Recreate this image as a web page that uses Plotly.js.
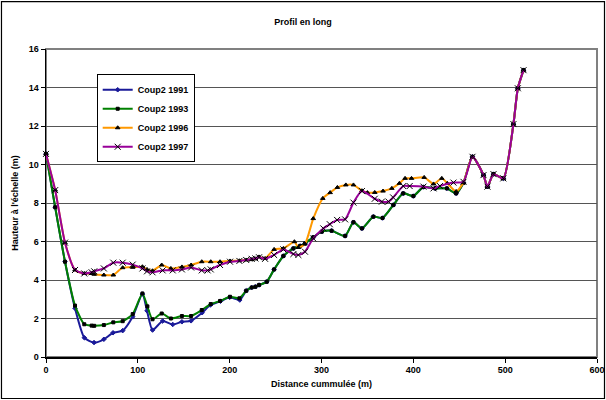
<!DOCTYPE html>
<html>
<head>
<meta charset="utf-8">
<script src="https://cdn.plot.ly/plotly-3.0.1.min.js"></script>
<style>html,body{margin:0;padding:0;background:#fff;}#chart{width:606px;height:400px;}</style>
</head>
<body>
<div id="chart"></div>
<script>
// ---- Data ----
const seriesNames = ["Coup2 1991", "Coup2 1993", "Coup2 1996", "Coup2 1997"];

const x1991 = [0, 10, 20.7, 31.6, 41.8, 52.3, 63, 73, 83.5, 94.4, 105, 110, 116, 127, 138, 148, 158, 170, 179, 190, 200, 211, 218, 224, 228, 232,
  240.4, 248.4, 258.5, 269.4, 276.7, 282, 291, 300.3, 311, 325.7, 334.8, 344, 356.5, 366.4, 378.3, 389, 400, 411, 423.7, 436.5, 446.6, 454.6, 464.4, 476.4, 480.7, 487.3, 498, 509, 513.8, 520];
const y1991 = [10.55, 7.78, 4.95, 2.53, 1.0, 0.75, 0.92, 1.26, 1.37, 2.09, 3.27, 2.4, 1.40, 1.87, 1.69, 1.83, 1.88, 2.3, 2.7, 2.9, 3.1, 2.96, 3.44, 3.61, 3.65, 3.74,
  3.91, 4.55, 5.25, 5.64, 5.77, 5.9, 6.22, 6.51, 6.56, 6.29, 7.0, 6.68, 7.29, 7.22, 7.9, 8.5, 8.36, 8.83, 8.76, 8.76, 8.5, 9.05, 10.4, 9.45, 8.85, 9.5, 9.28, 12.1, 13.96, 14.9];

const x1993 = [0, 10, 20.7, 31.6, 41.7, 49.7, 52.5, 63, 73.3, 83.5, 94.4, 105, 110.4, 116, 126, 136, 148, 158, 169.6, 179.4, 189.5, 200.4, 210.6, 218, 224, 228, 232,
  240.4, 248.4, 258.5, 269.4, 276.7, 282, 291, 300.3, 311, 325.7, 334.8, 344, 356.5, 366.4, 378.3, 389, 400, 411, 423.7, 436.5, 446.6, 454.6, 464.4, 476.4, 480.7, 487.3, 498, 509, 513.8, 520];
const y1993 = [10.55, 7.78, 4.95, 2.67, 1.70, 1.63, 1.62, 1.66, 1.80, 1.86, 2.23, 3.30, 2.63, 1.96, 2.26, 2.0, 2.13, 2.13, 2.44, 2.75, 2.91, 3.13, 3.05, 3.44, 3.61, 3.65, 3.74,
  3.91, 4.55, 5.25, 5.64, 5.77, 5.9, 6.22, 6.51, 6.56, 6.29, 7.0, 6.68, 7.29, 7.22, 7.9, 8.5, 8.36, 8.83, 8.76, 8.76, 8.5, 9.05, 10.4, 9.45, 8.85, 9.5, 9.28, 12.1, 13.96, 14.9];

const x1996 = [0, 10, 20.7, 31.6, 41.7, 49.7, 52.5, 63, 73.3, 83.5, 94.4, 105, 110, 116, 126, 136, 148, 158, 169.6, 179.4, 189.5, 200.4, 210.6, 218, 224, 228, 232,
  238.6, 248.4, 258.5, 270.5, 274.8, 282, 291, 301.4, 309.4, 317.3, 326.5, 334.8, 344, 350, 358, 367, 376.6, 384.8, 391, 398, 411.8, 422, 431, 437, 446.6, 454.6, 464.4, 476.4, 480.7, 487.3, 498, 509, 513.8, 520];
const y1996 = [10.55, 8.67, 5.94, 4.52, 4.34, 4.34, 4.3, 4.26, 4.26, 4.64, 4.66, 4.69, 4.55, 4.48, 4.78, 4.6, 4.68, 4.78, 4.95, 4.95, 4.95, 4.99, 5.0, 5.04, 5.06, 5.1, 5.2,
  5.12, 5.59, 5.64, 5.99, 5.69, 5.87, 7.19, 8.24, 8.54, 8.81, 8.94, 8.94, 8.64, 8.54, 8.55, 8.62, 8.76, 9.02, 9.28, 9.28, 9.33, 8.99, 9.28, 9.02, 8.6, 9.06, 10.4, 9.45, 8.85, 9.5, 9.28, 12.1, 13.96, 14.9];

const x1997 = [0, 10, 20.7, 31.6, 41.7, 49.7, 52.5, 63, 73.3, 83.5, 94.4, 105, 110, 116, 127, 138, 148, 158, 169.6, 176, 179.4, 189.5, 200.4, 210.6, 218, 224, 228, 232,
  238.6, 248.4, 258.5, 269.4, 274.8, 282, 291, 302, 309, 317, 325.7, 334.8, 344, 358, 365.7, 373, 378, 389, 396, 411, 422, 429, 443.7, 454.6, 464.4, 476.4, 480.7, 487.3, 498, 509, 513.8, 520];
const y1997 = [10.55, 8.67, 5.94, 4.52, 4.34, 4.4, 4.45, 4.6, 4.9, 4.9, 4.8, 4.6, 4.45, 4.4, 4.5, 4.5, 4.55, 4.65, 4.5, 4.5, 4.55, 4.78, 4.95, 4.99, 5.04, 5.1, 5.12, 5.18,
  5.1, 5.3, 5.59, 5.35, 5.3, 5.47, 6.16, 6.68, 6.9, 7.12, 7.15, 8.02, 8.62, 8.22, 8.07, 8.07, 8.29, 8.88, 8.88, 8.85, 8.76, 8.88, 9.06, 9.1, 10.4, 9.45, 8.85, 9.5, 9.28, 12.1, 13.96, 14.9];

const xTicks = [0, 100, 200, 300, 400, 500, 600];
const yTicks = [0, 2, 4, 6, 8, 10, 12, 14, 16];

// ---- Styling ----
const FONT = "Liberation Sans, Arial, sans-serif";
const lineSpec = [
  {color: "#1a1a99", symbol: "diamond", msize: 3.5, mcolor: "#1a1a99"},
  {color: "#008000", symbol: "square", msize: 3, mcolor: "#000000"},
  {color: "#ff9900", symbol: "triangle-up", msize: 4, mcolor: "#000000"},
  {color: "#990099", symbol: "x-thin-open", msize: 6, mcolor: "#000000"}
];
const xs = [x1991, x1993, x1996, x1997];
const ys = [y1991, y1993, y1996, y1997];

const traces = seriesNames.map((name, i) => ({
  type: "scatter",
  mode: "lines+markers",
  name: "<b>" + name + "</b>",
  x: xs[i],
  y: ys[i],
  line: {color: lineSpec[i].color, width: 2, shape: "spline", smoothing: 0.6},
  marker: {symbol: lineSpec[i].symbol, size: lineSpec[i].msize, color: lineSpec[i].mcolor,
           line: {color: lineSpec[i].mcolor, width: 1}},
  cliponaxis: false
}));

const layout = {
  width: 606, height: 400,
  margin: {l: 46, r: 9, t: 49, b: 43},
  paper_bgcolor: "#ffffff",
  plot_bgcolor: "#ffffff",
  showlegend: true,
  font: {family: FONT, size: 9, color: "#000"},
  title: {text: "<b>Profil en long</b>", x: 0.5, xref: "container", y: 0.945, yref: "container",
          yanchor: "middle", font: {family: FONT, size: 9, color: "#000"}},
  xaxis: {
    range: [0, 600], tickvals: xTicks, ticktext: xTicks.map(v => "<b>" + v + "</b>"),
    ticks: "outside", ticklen: 4, tickcolor: "#000", tickwidth: 1,
    showgrid: false, zeroline: false,
    showline: true, linecolor: "#000", linewidth: 1.5,
    tickfont: {family: FONT, size: 9, color: "#000"},
    title: {text: "<b>Distance cummulée (m)</b>", standoff: 6, font: {family: FONT, size: 9, color: "#000"}}
  },
  yaxis: {
    range: [0, 16], tickvals: yTicks, ticktext: yTicks.map(v => "<b>" + v + "</b>"),
    ticks: "outside", ticklen: 4, tickcolor: "#000", tickwidth: 1,
    showgrid: true, gridcolor: "#555555", gridwidth: 1, zeroline: false,
    showline: true, linecolor: "#000", linewidth: 1.5,
    tickfont: {family: FONT, size: 9, color: "#000"},
    title: {text: "<b>Hauteur à l'échelle (m)</b>", standoff: 8, font: {family: FONT, size: 9, color: "#000"}}
  },
  legend: {
    x: 0.092, y: 0.918, xanchor: "left", yanchor: "top",
    bgcolor: "#ffffff", bordercolor: "#000", borderwidth: 1,
    font: {family: FONT, size: 9, color: "#000"},
    tracegroupgap: 0, itemwidth: 30
  },
  shapes: [
    {type: "rect", xref: "paper", yref: "paper", x0: 0, x1: 1, y0: 0, y1: 1,
     line: {color: "#808080", width: 2}, layer: "below"},
    {type: "rect", xref: "paper", yref: "paper", x0: -0.0808, x1: 1.0136, y0: -0.1347, y1: 1.154,
     line: {color: "#000", width: 1.2}, layer: "above"}
  ]
};

Plotly.newPlot("chart", traces, layout, {displayModeBar: false, staticPlot: true});
</script>
</body>
</html>
